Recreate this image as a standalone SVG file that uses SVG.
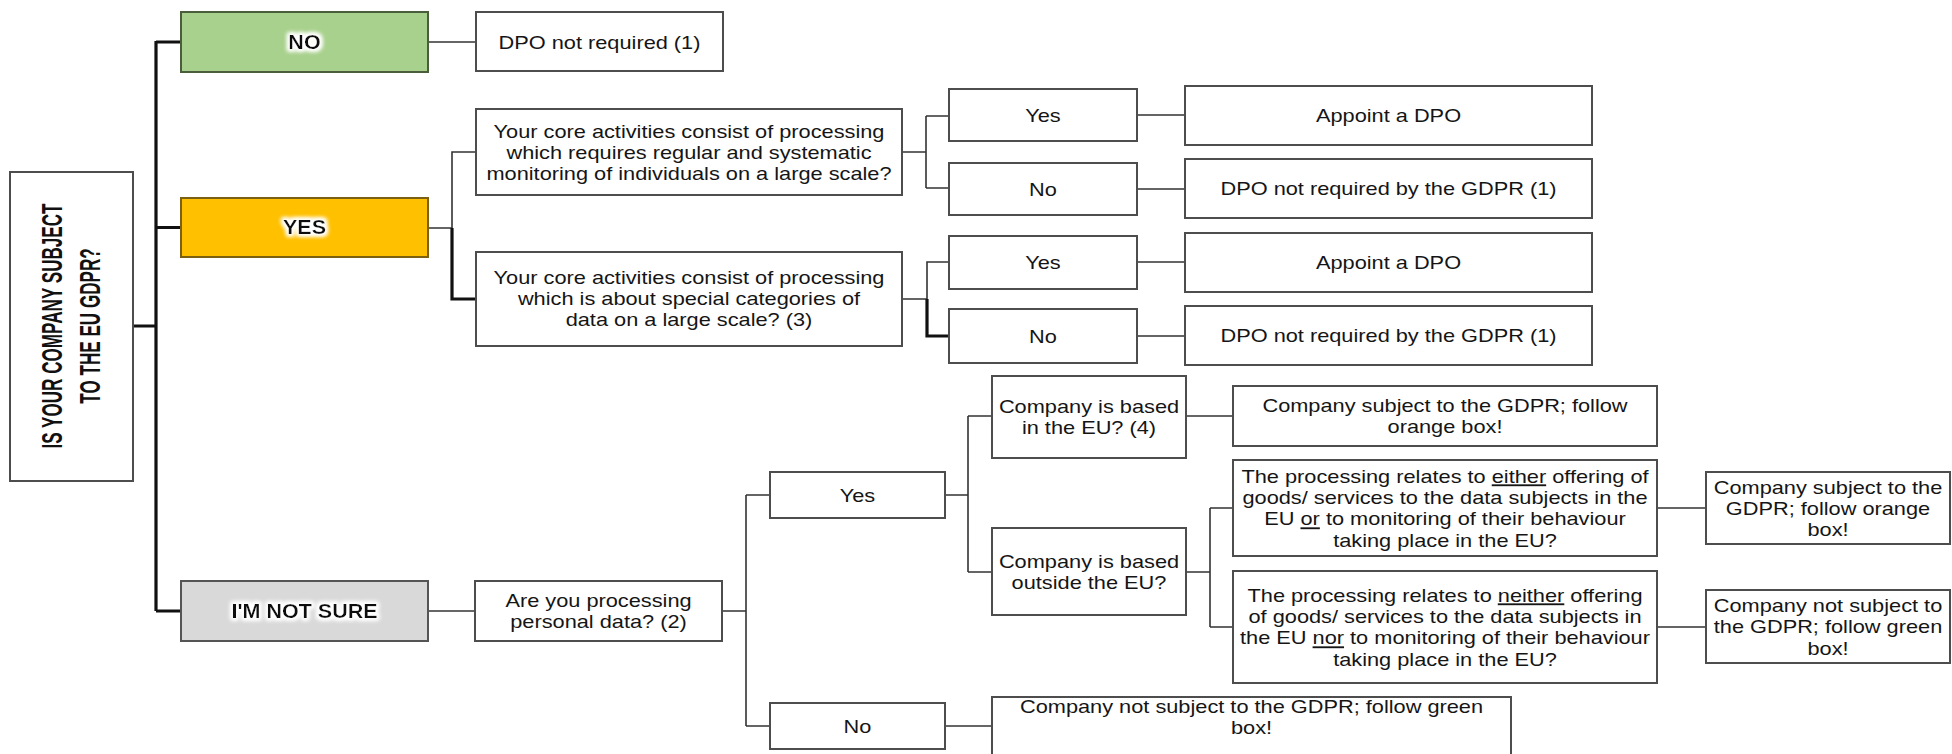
<svg xmlns="http://www.w3.org/2000/svg" width="1952" height="754" viewBox="0 0 1952 754">
<defs>
<style>
.box{fill:#fff;stroke:#4d4d4d;stroke-width:2}
.t{font-family:"Liberation Sans",Arial,sans-serif;font-size:18.6px;fill:#151515;text-anchor:middle}
.h{font-family:"Liberation Sans",Arial,sans-serif;font-size:20.5px;font-weight:bold;fill:#111;text-anchor:middle}
.r{font-family:"Liberation Sans",Arial,sans-serif;font-size:30px;font-weight:bold;fill:#111;text-anchor:middle}
.thin{fill:none;stroke:#333;stroke-width:1.6}
.thick{fill:none;stroke:#111;stroke-width:3.2;stroke-linejoin:miter}
.u{text-decoration:underline}
</style>
<filter id="glow" x="-20%" y="-60%" width="140%" height="220%">
<feMorphology in="SourceAlpha" operator="dilate" radius="1.5" result="d"/>
<feGaussianBlur in="d" stdDeviation="2" result="b"/>
<feFlood flood-color="#ffffff"/>
<feComposite in2="b" operator="in" result="w"/>
<feMerge><feMergeNode in="w"/><feMergeNode in="w"/><feMergeNode in="SourceGraphic"/></feMerge>
</filter>
</defs>
<rect width="1952" height="754" fill="#fff"/>

<g id="connectors">
<path class="thick" d="M133,326 H156 M156,41 V611 M156,42 H181 M156,227.5 H181 M156,611 H181"/>
<path class="thin" d="M428,42 H476"/>
<path class="thin" d="M428,228 H452 M452,228 V152 H476"/>
<path class="thick" d="M452,228 V299 H476"/>
<path class="thin" d="M902,152 H926 M926,116 V188 M926,116 H949 M926,188 H949"/>
<path class="thin" d="M902,299 H927 M927,299 V262 H949"/>
<path class="thick" d="M927,299 V336 H949"/>
<path class="thin" d="M1137,115 H1185 M1137,189 H1185 M1137,262 H1185 M1137,336 H1185"/>
<path class="thin" d="M428,611 H475"/>
<path class="thin" d="M722,611 H746 M746,495 V726 M746,495 H770 M746,726 H770"/>
<path class="thin" d="M945,495 H968 M968,416 V572 M968,416 H992 M968,572 H992"/>
<path class="thin" d="M945,726 H992"/>
<path class="thin" d="M1186,416 H1233"/>
<path class="thin" d="M1186,572 H1210 M1210,508 V627 M1210,508 H1233 M1210,627 H1233"/>
<path class="thin" d="M1657,508 H1706 M1657,627 H1706"/>
</g>

<g id="root">
<rect class="box" x="10" y="172" width="123" height="309"/>
<text class="r" transform="translate(62,326) rotate(-90) scale(0.57,1)">IS YOUR COMPANY SUBJECT</text>
<text class="r" transform="translate(100,326) rotate(-90) scale(0.57,1)">TO THE EU GDPR?</text>
</g>

<g id="no">
<rect x="181" y="12" width="247" height="60" fill="#a9d18e" stroke="#4a5e3c" stroke-width="2"/>
<text class="h" filter="url(#glow)" transform="translate(304.5,49) scale(1.05,1)">NO</text>
</g>
<g id="yes">
<rect x="181" y="198" width="247" height="59" fill="#ffc000" stroke="#7a6010" stroke-width="2"/>
<text class="h" filter="url(#glow)" transform="translate(304.5,234) scale(1.05,1)">YES</text>
</g>
<g id="notsure">
<rect x="181" y="581" width="247" height="60" fill="#d9d9d9" stroke="#555" stroke-width="2"/>
<text class="h" filter="url(#glow)" transform="translate(304.5,618) scale(1.05,1)">I'M NOT SURE</text>
</g>

<g id="dpo-not-required">
<rect class="box" x="476" y="12" width="247" height="59"/>
<text class="t" transform="translate(599.5,48.5) scale(1.17,1)">DPO not required (1)</text>
</g>

<g id="q-monitoring">
<rect class="box" x="476" y="109" width="426" height="86"/>
<text class="t" transform="translate(689,137.5) scale(1.17,1)"><tspan x="0" y="0">Your core activities consist of processing</tspan><tspan x="0" y="21.5">which requires regular and systematic</tspan><tspan x="0" y="43">monitoring of individuals on a large scale?</tspan></text>
</g>
<g id="q-special">
<rect class="box" x="476" y="252" width="426" height="94"/>
<text class="t" transform="translate(689,283.5) scale(1.17,1)"><tspan x="0" y="0">Your core activities consist of processing</tspan><tspan x="0" y="21.5">which is about special categories of</tspan><tspan x="0" y="43">data on a large scale? (3)</tspan></text>
</g>

<g id="yes1">
<rect class="box" x="949" y="89" width="188" height="52"/>
<text class="t" transform="translate(1043,121.5) scale(1.17,1)">Yes</text>
</g>
<g id="no1">
<rect class="box" x="949" y="163" width="188" height="52"/>
<text class="t" transform="translate(1043,195.5) scale(1.17,1)">No</text>
</g>
<g id="yes2">
<rect class="box" x="949" y="236" width="188" height="53"/>
<text class="t" transform="translate(1043,269) scale(1.17,1)">Yes</text>
</g>
<g id="no2">
<rect class="box" x="949" y="309" width="188" height="54"/>
<text class="t" transform="translate(1043,342.5) scale(1.17,1)">No</text>
</g>

<g id="appoint1">
<rect class="box" x="1185" y="86" width="407" height="59"/>
<text class="t" transform="translate(1388.5,122) scale(1.17,1)">Appoint a DPO</text>
</g>
<g id="dpo-not-req1">
<rect class="box" x="1185" y="159" width="407" height="59"/>
<text class="t" transform="translate(1388.5,195) scale(1.17,1)">DPO not required by the GDPR (1)</text>
</g>
<g id="appoint2">
<rect class="box" x="1185" y="233" width="407" height="59"/>
<text class="t" transform="translate(1388.5,269) scale(1.17,1)">Appoint a DPO</text>
</g>
<g id="dpo-not-req2">
<rect class="box" x="1185" y="306" width="407" height="59"/>
<text class="t" transform="translate(1388.5,342) scale(1.17,1)">DPO not required by the GDPR (1)</text>
</g>

<g id="q-personal">
<rect class="box" x="475" y="581" width="247" height="60"/>
<text class="t" transform="translate(598.5,607) scale(1.17,1)"><tspan x="0" y="0">Are you processing</tspan><tspan x="0" y="21.5">personal data? (2)</tspan></text>
</g>
<g id="yes3">
<rect class="box" x="770" y="472" width="175" height="46"/>
<text class="t" transform="translate(857.5,501.5) scale(1.17,1)">Yes</text>
</g>
<g id="no3">
<rect class="box" x="770" y="703" width="175" height="46"/>
<text class="t" transform="translate(857.5,732.5) scale(1.17,1)">No</text>
</g>

<g id="based-eu">
<rect class="box" x="992" y="376" width="194" height="82"/>
<text class="t" transform="translate(1089,412.5) scale(1.17,1)"><tspan x="0" y="0">Company is based</tspan><tspan x="0" y="21.5">in the EU? (4)</tspan></text>
</g>
<g id="based-outside">
<rect class="box" x="992" y="528" width="194" height="87"/>
<text class="t" transform="translate(1089,567.5) scale(1.17,1)"><tspan x="0" y="0">Company is based</tspan><tspan x="0" y="21.5">outside the EU?</tspan></text>
</g>
<g id="subject-orange1">
<rect class="box" x="1233" y="386" width="424" height="60"/>
<text class="t" transform="translate(1445,412) scale(1.17,1)"><tspan x="0" y="0">Company subject to the GDPR; follow</tspan><tspan x="0" y="21.5">orange box!</tspan></text>
</g>
<g id="q-either">
<rect class="box" x="1233" y="460" width="424" height="96"/>
<text class="t" transform="translate(1445,482.5) scale(1.17,1)"><tspan x="0" y="0">The processing relates to <tspan class="u">either</tspan> offering of</tspan><tspan x="0" y="21.5">goods/ services to the data subjects in the</tspan><tspan x="0" y="43">EU <tspan class="u">or</tspan> to monitoring of their behaviour</tspan><tspan x="0" y="64.5">taking place in the EU?</tspan></text>
</g>
<g id="q-neither">
<rect class="box" x="1233" y="571" width="424" height="112"/>
<text class="t" transform="translate(1445,601.5) scale(1.17,1)"><tspan x="0" y="0">The processing relates to <tspan class="u">neither</tspan> offering</tspan><tspan x="0" y="21.5">of goods/ services to the data subjects in</tspan><tspan x="0" y="43">the EU <tspan class="u">nor</tspan> to monitoring of their behaviour</tspan><tspan x="0" y="64.5">taking place in the EU?</tspan></text>
</g>
<g id="subject-orange2">
<rect class="box" x="1706" y="472" width="244" height="72"/>
<text class="t" transform="translate(1828,493.5) scale(1.17,1)"><tspan x="0" y="0">Company subject to the</tspan><tspan x="0" y="21.5">GDPR; follow orange</tspan><tspan x="0" y="43">box!</tspan></text>
</g>
<g id="not-subject-green2">
<rect class="box" x="1706" y="590" width="244" height="73"/>
<text class="t" transform="translate(1828,612) scale(1.17,1)"><tspan x="0" y="0">Company not subject to</tspan><tspan x="0" y="21.5">the GDPR; follow green</tspan><tspan x="0" y="43">box!</tspan></text>
</g>
<g id="not-subject-green1">
<rect class="box" x="992" y="697" width="519" height="80"/>
<text class="t" transform="translate(1251.5,713) scale(1.17,1)"><tspan x="0" y="0">Company not subject to the GDPR; follow green</tspan><tspan x="0" y="21.5">box!</tspan></text>
</g>
</svg>
